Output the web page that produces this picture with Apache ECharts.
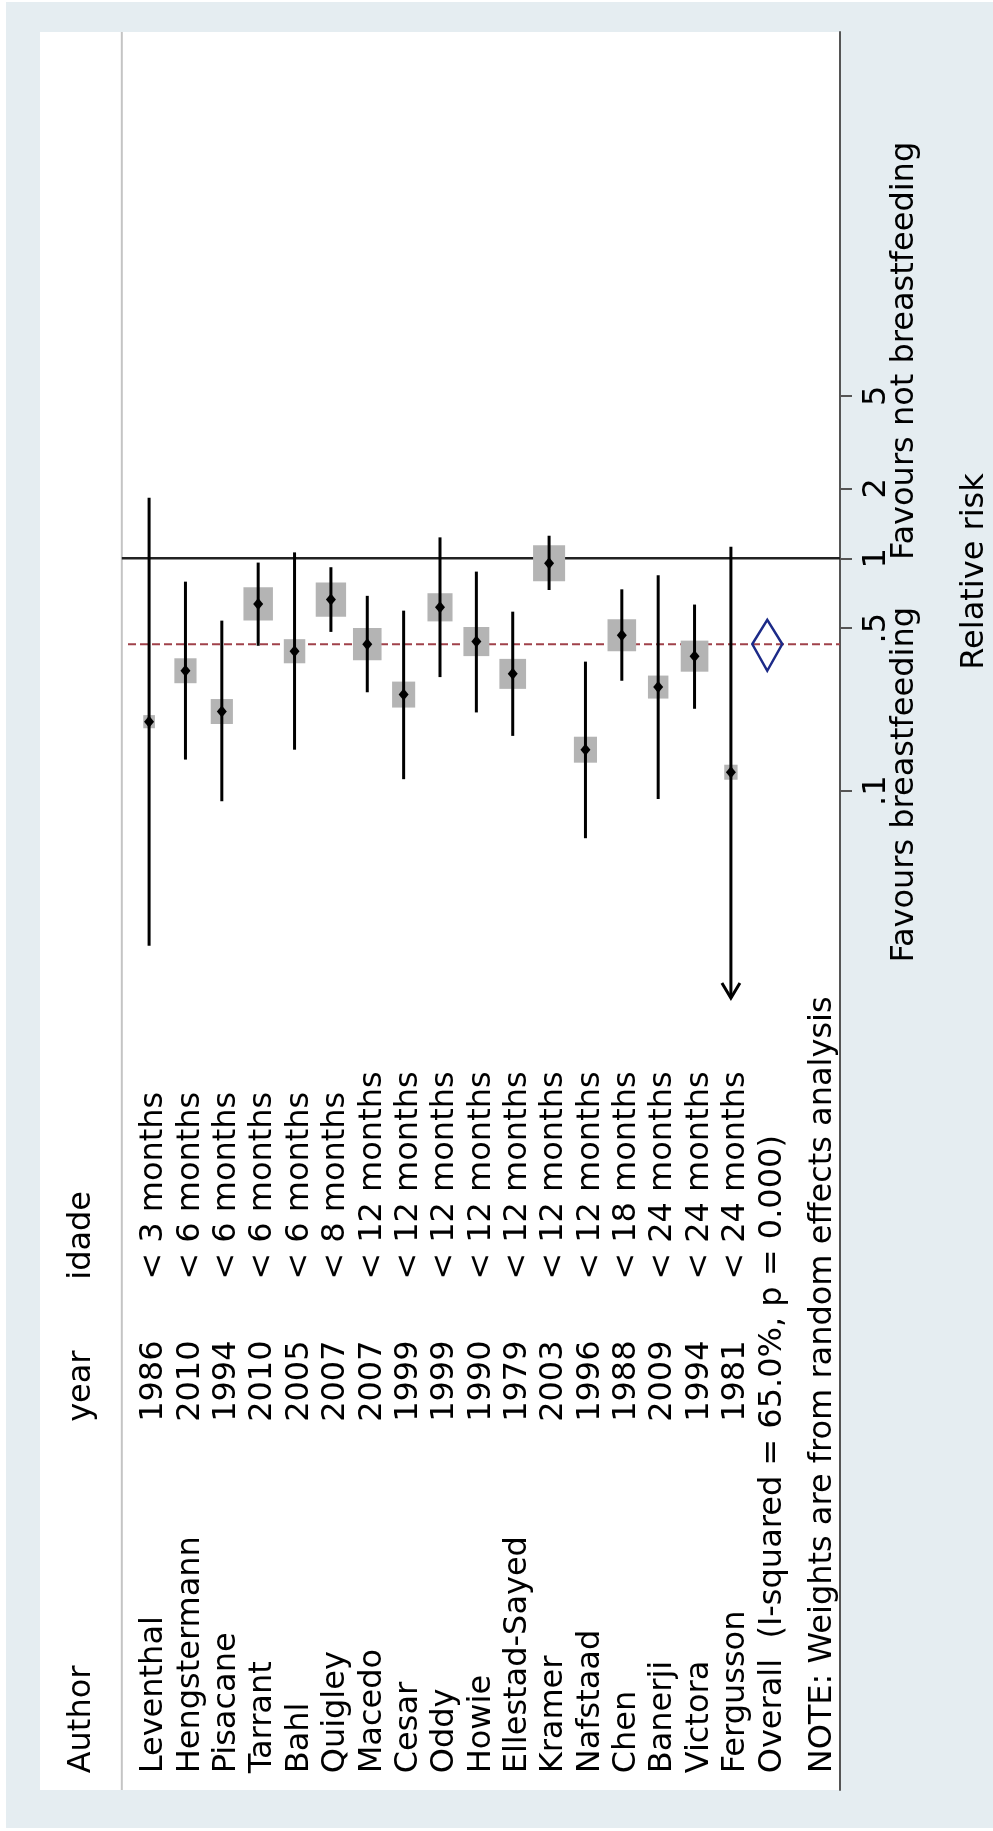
<!DOCTYPE html>
<html>
<head>
<meta charset="utf-8">
<script src="https://cdn.jsdelivr.net/npm/echarts@6/dist/echarts.min.js"></script>
<style>
html,body{margin:0;padding:0;background:#ffffff;}
#c{position:absolute;left:6px;top:2px;width:987px;height:1826px;}
</style>
</head>
<body>
<div id="c"></div>
<script>
// ---------------- data ----------------
const authors = ["Leventhal","Hengstermann","Pisacane","Tarrant","Bahl","Quigley","Macedo","Cesar","Oddy","Howie","Ellestad-Sayed","Kramer","Nafstaad","Chen","Banerji","Victora","Fergusson"];
const years = [1986,2010,1994,2010,2005,2007,2007,1999,1999,1990,1979,2003,1996,1988,2009,1994,1981];
const ages = ["< 3 months","< 6 months","< 6 months","< 6 months","< 6 months","< 8 months","< 12 months","< 12 months","< 12 months","< 12 months","< 12 months","< 12 months","< 12 months","< 18 months","< 24 months","< 24 months","< 24 months"];
const rr     = [0.198,0.328,0.219,0.636,0.398,0.664,0.427,0.259,0.615,0.438,0.318,0.952,0.150,0.466,0.279,0.379,0.120];
const ciLow  = [0.0215,0.136,0.090,0.420,0.150,0.482,0.265,0.112,0.308,0.217,0.172,0.730,0.0624,0.297,0.092,0.225,0.008];
const ciHigh = [1.82,0.793,0.539,0.958,1.06,0.915,0.689,0.595,1.23,0.876,0.589,1.25,0.359,0.735,0.845,0.632,1.12];
const weights = [1.3,4.7,4.7,8.3,4.4,8.8,7.8,5.1,6.0,6.4,6.8,9.8,5.1,7.8,4.0,7.3,1.7];
const overallLabel = "Overall  (I-squared = 65.0%, p = 0.000)";
const overallEst = 0.427, overallLow = 0.328, overallHigh = 0.543;
const noteText = "NOTE: Weights are from random effects analysis";
const headers = ["Author","year","idade"];
const tickValues = [0.1,0.5,1,2,5];
const tickLabels = [".1",".5","1","2","5"];
const favoursText = ["Favours breastfeeding","Favours not breastfeeding"];
const axisTitle = "Relative risk";
const nullValue = 1;

// ---------------- layout ----------------
const FONT = '32px "DejaVu Sans"';
const ROW_MIN = -3, ROW_MAX = 19;
const AX_MIN = 5e-6, AX_MAX = 184;
const CI_FLOOR = 0.0128;          // lower display limit of the CI lines (arrow beyond)
const COL_AUTHOR = 5.9e-6, COL_YEAR = 1.92e-4, COL_AGE = 7.85e-4;   // text column anchors on the value axis
const HEADER_ROW = -2, SEP_ROW = -0.75, DASH_START = -0.58, OVERALL_ROW = 17, NOTE_ROW = 18.4;
const TEXT_DX = 5;
const BOX_K = 11.5;

function textSeries(items, align, dx) {
  return {
    type: 'custom', clip: false, z: 10,
    data: items.map(it => [it[0], it[1]]),
    encode: {x: 0, y: 1},
    renderItem: function (params, api) {
      const it = items[params.dataIndex];
      const c = api.coord([api.value(0), api.value(1)]);
      return {
        type: 'text', x: c[0] + (dx || TEXT_DX), y: c[1], rotation: Math.PI / 2,
        style: {text: it[2], font: FONT, fill: '#000', align: align || 'left', verticalAlign: 'middle'}
      };
    }
  };
}

const authorItems = authors.map((a, i) => [i, COL_AUTHOR, a]);
const yearItems = years.map((y, i) => [i, COL_YEAR, String(y)]);
const ageItems = ages.map((a, i) => [i, COL_AGE, a]);
const headerItems = [[HEADER_ROW, COL_AUTHOR, headers[0]], [HEADER_ROW, COL_YEAR, headers[1]], [HEADER_ROW, COL_AGE, headers[2]]];
const footItems = [[OVERALL_ROW, COL_AUTHOR, overallLabel], [NOTE_ROW, COL_AUTHOR, noteText]];

const chart = echarts.init(document.getElementById('c'), null, {renderer: 'canvas'});
const option = {
  backgroundColor: '#e5edf1',
  animation: false,
  grid: {left: 34, top: 30, width: 800, height: 1758, show: true, backgroundColor: '#ffffff', borderWidth: 0},
  xAxis: {type: 'value', min: ROW_MIN, max: ROW_MAX, show: false},
  yAxis: {
    type: 'log', logBase: 10, min: AX_MIN, max: AX_MAX, position: 'right',
    axisLine: {show: true, onZero: false, lineStyle: {color: '#555', width: 2}},
    axisTick: {show: true, customValues: tickValues, length: 12, lineStyle: {color: '#555', width: 2}},
    axisLabel: {
      show: true, customValues: tickValues, rotate: 90, margin: 21,
      fontFamily: 'DejaVu Sans', fontSize: 32, color: '#000',
      formatter: function (v) {
        const k = tickValues.findIndex(t => Math.abs(t - v) / t < 1e-6);
        return k >= 0 ? tickLabels[k] : '';
      }
    },
    splitLine: {show: false}, minorTick: {show: false}
  },
  series: [
    // header separator
    {
      type: 'custom', clip: false, z: 1,
      data: [[SEP_ROW, AX_MIN]], encode: {x: 0, y: 1},
      renderItem: function (p, api) {
        const a = api.coord([SEP_ROW, AX_MIN]), b = api.coord([SEP_ROW, AX_MAX]);
        return {type: 'line', shape: {x1: a[0], y1: a[1], x2: b[0], y2: b[1]}, style: {stroke: '#c4c4c4', lineWidth: 2}};
      }
    },
    // null line
    {
      type: 'custom', clip: false, z: 2,
      data: [[SEP_ROW, nullValue]], encode: {x: 0, y: 1},
      renderItem: function (p, api) {
        const a = api.coord([api.value(0), api.value(1)]), b = api.coord([ROW_MAX, api.value(1)]);
        return {type: 'line', shape: {x1: a[0], y1: a[1], x2: b[0], y2: b[1]}, style: {stroke: '#222', lineWidth: 2.5}};
      }
    },
    // overall effect dashed line
    {
      type: 'custom', clip: false, z: 3,
      data: [[DASH_START, overallEst]], encode: {x: 0, y: 1},
      renderItem: function (p, api) {
        const a = api.coord([api.value(0), api.value(1)]), b = api.coord([ROW_MAX, api.value(1)]);
        return {type: 'line', shape: {x1: a[0], y1: a[1], x2: b[0], y2: b[1]}, style: {stroke: '#a0414a', lineWidth: 2, lineDash: [8, 4]}};
      }
    },
    // studies
    {
      type: 'custom', clip: false, z: 5,
      data: rr.map((v, i) => [i, v, ciLow[i], ciHigh[i], weights[i]]),
      encode: {x: 0, y: 1},
      renderItem: function (p, api) {
        const r = api.value(0), est = api.value(1), lo = api.value(2), hi = api.value(3), w = api.value(4);
        const c = api.coord([r, est]);
        const l = api.coord([r, Math.max(lo, CI_FLOOR)]);
        const h = api.coord([r, hi]);
        const bh = BOX_K * Math.sqrt(w), bw = bh * 0.89;
        const ch = [
          {type: 'rect', shape: {x: c[0] - bw / 2, y: c[1] - bh / 2, width: bw, height: bh}, style: {fill: '#b4b4b4'}},
          {type: 'line', shape: {x1: l[0], y1: l[1], x2: h[0], y2: h[1]}, style: {stroke: '#000', lineWidth: 3}},
          {type: 'polygon', shape: {points: [[c[0], c[1] - 6], [c[0] + 5, c[1]], [c[0], c[1] + 6], [c[0] - 5, c[1]]]}, style: {fill: '#000'}}
        ];
        if (lo < CI_FLOOR) {
          ch.push({type: 'polyline', shape: {points: [[l[0] - 9, l[1] - 15], [l[0], l[1]], [l[0] + 9, l[1] - 15]]}, style: {stroke: '#000', lineWidth: 3, fill: null}});
        }
        return {type: 'group', children: ch};
      }
    },
    // overall diamond
    {
      type: 'custom', clip: false, z: 6,
      data: [[OVERALL_ROW, overallEst, overallLow, overallHigh]], encode: {x: 0, y: 1},
      renderItem: function (p, api) {
        const r = api.value(0);
        const c = api.coord([r, api.value(1)]), lo = api.coord([r, api.value(2)]), hi = api.coord([r, api.value(3)]);
        return {type: 'polygon', shape: {points: [[c[0], lo[1]], [c[0] + 15, c[1]], [c[0], hi[1]], [c[0] - 15, c[1]]]},
          style: {fill: 'none', stroke: '#1c2a88', lineWidth: 2.5}};
      }
    },
    textSeries(headerItems),
    textSeries(authorItems),
    textSeries(yearItems),
    textSeries(ageItems),
    textSeries(footItems),
    // favours texts and axis title
    textSeries([[ROW_MAX, 0.617, favoursText[0]]], 'right', 65),
    textSeries([[ROW_MAX, 0.983, favoursText[1]]], 'left', 65),
    textSeries([[ROW_MAX, 0.877, axisTitle]], 'center', 135)
  ]
};
chart.setOption(option);
</script>
</body>
</html>
